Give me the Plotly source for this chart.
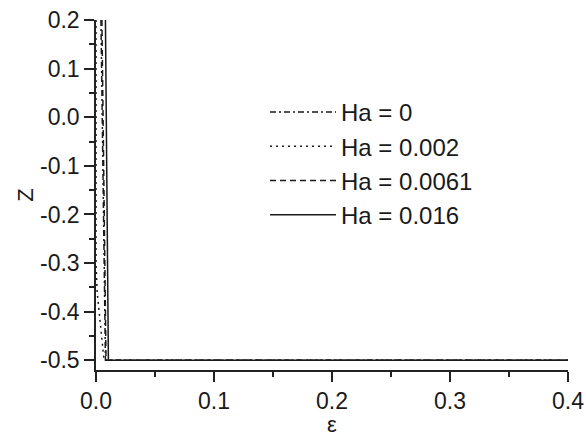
import plotly.graph_objects as go

# Data (epsilon vs Z)
ha_labels = ["Ha = 0", "Ha = 0.002", "Ha = 0.0061", "Ha = 0.016"]

eps_ha0 = [0.0042, 0.0060, 0.0080, 0.4]
z_ha0 = [0.2, -0.15, -0.5, -0.5]

eps_ha002 = [0.0, 0.0, 0.0010, 0.0068, 0.4]
z_ha002 = [0.2, -0.30, -0.36, -0.5, -0.5]

eps_ha0061 = [0.0050, 0.0068, 0.0085, 0.4]
z_ha0061 = [0.2, -0.15, -0.5, -0.5]

eps_ha016 = [0.0080, 0.0095, 0.0105, 0.4]
z_ha016 = [0.2, -0.15, -0.5, -0.5]

x_ticks = [0.0, 0.1, 0.2, 0.3, 0.4]
x_ticktext = ["0.0", "0.1", "0.2", "0.3", "0.4"]
y_ticks = [0.2, 0.1, 0.0, -0.1, -0.2, -0.3, -0.4, -0.5]
y_ticktext = ["0.2", "0.1", "0.0", "-0.1", "-0.2", "-0.3", "-0.4", "-0.5"]

series = [
    (eps_ha0, z_ha0, "6px,3px,2px,3px"),
    (eps_ha002, z_ha002, "2px,4px"),
    (eps_ha0061, z_ha0061, "6px,4px"),
    (eps_ha016, z_ha016, "solid"),
]

FONT = "Arial, Liberation Sans, sans-serif"
fig = go.Figure()
for i, ((xs, ys, dash), name) in enumerate(zip(series, ha_labels)):
    fig.add_trace(go.Scatter(
        x=xs, y=ys, mode="lines", name=name,
        line=dict(color="#1a1a1a", width=1.5, dash=dash),
    ))

axis_common = dict(
    showline=True, linecolor="#222", linewidth=1.5, mirror=False,
    ticks="outside", ticklen=10, tickwidth=1.5, tickcolor="#222",
    showgrid=False, zeroline=False,
    tickfont=dict(family=FONT, size=23, color="#1a1a1a"),
    automargin=False,
)

fig.update_xaxes(
    range=[0, 0.4], tickvals=x_ticks, ticktext=x_ticktext,
    minor=dict(ticks="outside", ticklen=5, tickwidth=1.5, tickcolor="#222", dtick=0.05, tick0=0),
    title=dict(text="ε", font=dict(family=FONT, size=22, color="#1a1a1a"), standoff=2),
    **axis_common,
)
fig.update_yaxes(
    range=[-0.52, 0.2], tickvals=y_ticks, ticktext=y_ticktext,
    minor=dict(ticks="outside", ticklen=5, tickwidth=1.5, tickcolor="#222", dtick=0.05, tick0=0),
    title=dict(text="Z", font=dict(family=FONT, size=22, color="#1a1a1a"), standoff=0),
    **axis_common,
)

fig.update_layout(
    width=586, height=437,
    margin=dict(l=96, r=18, t=20, b=67, autoexpand=False),
    paper_bgcolor="white", plot_bgcolor="white",
    showlegend=True,
    legend=dict(
        x=(265 - 96) / 472, y=(370 - 90) / 350, xanchor="left", yanchor="top",
        bgcolor="rgba(0,0,0,0)", borderwidth=0,
        font=dict(family=FONT, size=24, color="#1a1a1a"),
        itemwidth=66,
    ),
)

fig.write_html("out.html")
